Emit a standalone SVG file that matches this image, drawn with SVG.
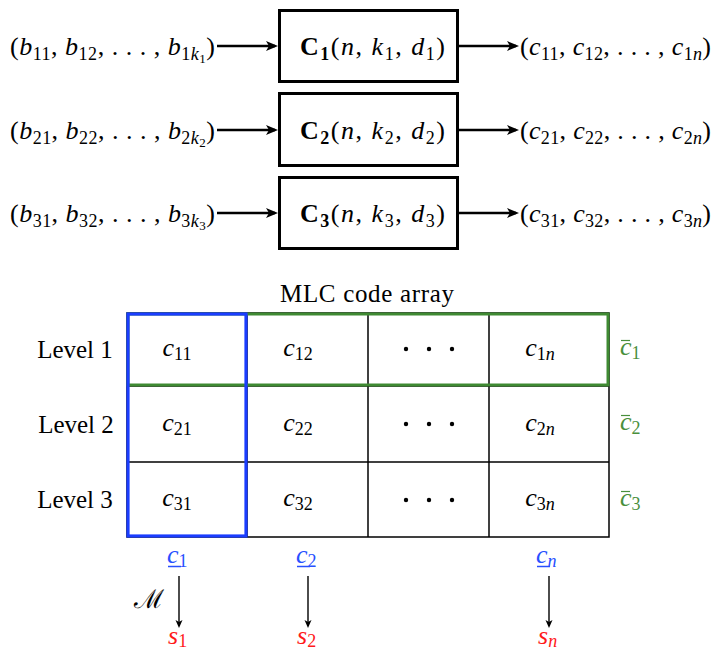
<svg xmlns="http://www.w3.org/2000/svg" width="718" height="651" viewBox="0 0 718 651" font-family="'Liberation Serif', 'Times New Roman', Times, serif">
<style>
text{font-family:'Liberation Serif','Times New Roman',Times,serif}
.m{font-size:26px;fill:#000}
.i{font-style:italic}
.s{font-size:18px}
.ss{font-size:13px}
.b{font-weight:bold}
.t{font-size:25px;fill:#000}
.box{fill:#fff;stroke:#000;stroke-width:3}
.grid{fill:none;stroke:#000;stroke-width:1.5}
.thick{stroke:#000;stroke-width:2.6;fill:none}
.thin{stroke:#000;stroke-width:1.4;fill:none}
.blue{fill:#2850ff}
.green{fill:#4a8f3c}
.red{fill:#ff1a1a}
</style>
<defs>
<marker id="ah" markerUnits="userSpaceOnUse" markerWidth="16" markerHeight="12" refX="9" refY="5" orient="auto">
<path d="M0,0 L12,5 L0,10 L3,5 Z" fill="#000"/>
</marker>
<marker id="ahs" markerUnits="userSpaceOnUse" markerWidth="10" markerHeight="8" refX="6" refY="3.5" orient="auto">
<path d="M0,0 L8,3.5 L0,7 L2,3.5 Z" fill="#000"/>
</marker>
</defs>

<g id="connectors">
<line class="thick" x1="217" y1="46" x2="275" y2="46" marker-end="url(#ah)"/>
<line class="thick" x1="459" y1="46" x2="516" y2="46" marker-end="url(#ah)"/>
<line class="thick" x1="217" y1="130" x2="275" y2="130" marker-end="url(#ah)"/>
<line class="thick" x1="459" y1="130" x2="516" y2="130" marker-end="url(#ah)"/>
<line class="thick" x1="217" y1="213" x2="275" y2="213" marker-end="url(#ah)"/>
<line class="thick" x1="459" y1="213" x2="516" y2="213" marker-end="url(#ah)"/>
<line class="thin" x1="179" y1="576" x2="179" y2="626" marker-end="url(#ahs)"/>
<line class="thin" x1="308" y1="576" x2="308" y2="626" marker-end="url(#ahs)"/>
<line class="thin" x1="549" y1="576" x2="549" y2="626" marker-end="url(#ahs)"/>
</g>

<g id="in1"><text class="m" x="10" y="55" textLength="205">(<tspan class="i">b</tspan><tspan class="s" dy="5">11</tspan><tspan dy="-5">, </tspan><tspan class="i">b</tspan><tspan class="s" dy="5">12</tspan><tspan dy="-5">, . . . , </tspan><tspan class="i">b</tspan><tspan class="s" dy="5">1<tspan class="i">k</tspan></tspan><tspan class="ss" dy="3">1</tspan><tspan dy="-8">)</tspan></text></g>
<g id="in2"><text class="m" x="10" y="139" textLength="205">(<tspan class="i">b</tspan><tspan class="s" dy="5">21</tspan><tspan dy="-5">, </tspan><tspan class="i">b</tspan><tspan class="s" dy="5">22</tspan><tspan dy="-5">, . . . , </tspan><tspan class="i">b</tspan><tspan class="s" dy="5">2<tspan class="i">k</tspan></tspan><tspan class="ss" dy="3">2</tspan><tspan dy="-8">)</tspan></text></g>
<g id="in3"><text class="m" x="10" y="222" textLength="205">(<tspan class="i">b</tspan><tspan class="s" dy="5">31</tspan><tspan dy="-5">, </tspan><tspan class="i">b</tspan><tspan class="s" dy="5">32</tspan><tspan dy="-5">, . . . , </tspan><tspan class="i">b</tspan><tspan class="s" dy="5">3<tspan class="i">k</tspan></tspan><tspan class="ss" dy="3">3</tspan><tspan dy="-8">)</tspan></text></g>

<g id="C1"><rect class="box" x="279.5" y="10.5" width="178" height="71"/>
<text class="m" x="300" y="55" textLength="145"><tspan class="b">C</tspan><tspan class="s b" dy="5">1</tspan><tspan dy="-5">(</tspan><tspan class="i">n</tspan>, <tspan class="i">k</tspan><tspan class="s" dy="5">1</tspan><tspan dy="-5">, </tspan><tspan class="i">d</tspan><tspan class="s" dy="5">1</tspan><tspan dy="-5">)</tspan></text></g>
<g id="C2"><rect class="box" x="279.5" y="93.5" width="178" height="72"/>
<text class="m" x="300" y="139" textLength="145"><tspan class="b">C</tspan><tspan class="s b" dy="5">2</tspan><tspan dy="-5">(</tspan><tspan class="i">n</tspan>, <tspan class="i">k</tspan><tspan class="s" dy="5">2</tspan><tspan dy="-5">, </tspan><tspan class="i">d</tspan><tspan class="s" dy="5">2</tspan><tspan dy="-5">)</tspan></text></g>
<g id="C3"><rect class="box" x="279.5" y="177.5" width="178" height="71"/>
<text class="m" x="300" y="222" textLength="145"><tspan class="b">C</tspan><tspan class="s b" dy="5">3</tspan><tspan dy="-5">(</tspan><tspan class="i">n</tspan>, <tspan class="i">k</tspan><tspan class="s" dy="5">3</tspan><tspan dy="-5">, </tspan><tspan class="i">d</tspan><tspan class="s" dy="5">3</tspan><tspan dy="-5">)</tspan></text></g>

<g id="out1"><text class="m" x="520" y="55" textLength="191">(<tspan class="i">c</tspan><tspan class="s" dy="5">11</tspan><tspan dy="-5">, </tspan><tspan class="i">c</tspan><tspan class="s" dy="5">12</tspan><tspan dy="-5">, . . . , </tspan><tspan class="i">c</tspan><tspan class="s" dy="5">1<tspan class="i">n</tspan></tspan><tspan dy="-5">)</tspan></text></g>
<g id="out2"><text class="m" x="520" y="139" textLength="191">(<tspan class="i">c</tspan><tspan class="s" dy="5">21</tspan><tspan dy="-5">, </tspan><tspan class="i">c</tspan><tspan class="s" dy="5">22</tspan><tspan dy="-5">, . . . , </tspan><tspan class="i">c</tspan><tspan class="s" dy="5">2<tspan class="i">n</tspan></tspan><tspan dy="-5">)</tspan></text></g>
<g id="out3"><text class="m" x="520" y="222" textLength="191">(<tspan class="i">c</tspan><tspan class="s" dy="5">31</tspan><tspan dy="-5">, </tspan><tspan class="i">c</tspan><tspan class="s" dy="5">32</tspan><tspan dy="-5">, . . . , </tspan><tspan class="i">c</tspan><tspan class="s" dy="5">3<tspan class="i">n</tspan></tspan><tspan dy="-5">)</tspan></text></g>

<g id="array">
<text class="t" x="367" y="302" text-anchor="middle" textLength="174">MLC code array</text>
<rect class="grid" x="127" y="313" width="482" height="224"/>
<line class="grid" x1="127" y1="386" x2="609" y2="386"/>
<line class="grid" x1="127" y1="462" x2="609" y2="462"/>
<line class="grid" x1="247" y1="313" x2="247" y2="537"/>
<line class="grid" x1="368" y1="313" x2="368" y2="537"/>
<line class="grid" x1="489" y1="313" x2="489" y2="537"/>
<rect x="128" y="314" width="480" height="71" fill="none" stroke="#3f8a32" stroke-width="3"/>
<rect x="128" y="314" width="118" height="222" fill="none" stroke="#1a3dff" stroke-width="3.2"/>
</g>

<g id="levels">
<text class="t" x="75" y="358" text-anchor="middle">Level 1</text>
<text class="t" x="76" y="433" text-anchor="middle">Level 2</text>
<text class="t" x="75" y="508" text-anchor="middle">Level 3</text>
</g>

<g id="cells">
<text class="m" x="177" y="356" text-anchor="middle"><tspan class="i">c</tspan><tspan class="s" dy="4">11</tspan></text>
<text class="m" x="298" y="356" text-anchor="middle"><tspan class="i">c</tspan><tspan class="s" dy="4">12</tspan></text>
<text class="m" x="540" y="356" text-anchor="middle"><tspan class="i">c</tspan><tspan class="s" dy="4">1<tspan class="i">n</tspan></tspan></text>
<text class="m" x="177" y="431" text-anchor="middle"><tspan class="i">c</tspan><tspan class="s" dy="4">21</tspan></text>
<text class="m" x="298" y="431" text-anchor="middle"><tspan class="i">c</tspan><tspan class="s" dy="4">22</tspan></text>
<text class="m" x="540" y="431" text-anchor="middle"><tspan class="i">c</tspan><tspan class="s" dy="4">2<tspan class="i">n</tspan></tspan></text>
<text class="m" x="177" y="506" text-anchor="middle"><tspan class="i">c</tspan><tspan class="s" dy="4">31</tspan></text>
<text class="m" x="298" y="506" text-anchor="middle"><tspan class="i">c</tspan><tspan class="s" dy="4">32</tspan></text>
<text class="m" x="540" y="506" text-anchor="middle"><tspan class="i">c</tspan><tspan class="s" dy="4">3<tspan class="i">n</tspan></tspan></text>
<g fill="#000">
<circle cx="406" cy="349" r="2.2"/><circle cx="429" cy="349" r="2.2"/><circle cx="452" cy="349" r="2.2"/>
<circle cx="406" cy="424" r="2.2"/><circle cx="429" cy="424" r="2.2"/><circle cx="452" cy="424" r="2.2"/>
<circle cx="406" cy="500" r="2.2"/><circle cx="429" cy="500" r="2.2"/><circle cx="452" cy="500" r="2.2"/>
</g>
</g>

<g id="rowcodes">
<text class="m green" x="620" y="355"><tspan class="i">c</tspan><tspan class="s" dy="4">1</tspan></text>
<line x1="621" y1="340.5" x2="630" y2="340.5" stroke="#4a8f3c" stroke-width="1.2"/>
<text class="m green" x="620" y="430"><tspan class="i">c</tspan><tspan class="s" dy="4">2</tspan></text>
<line x1="621" y1="415.5" x2="630" y2="415.5" stroke="#4a8f3c" stroke-width="1.2"/>
<text class="m green" x="620" y="506"><tspan class="i">c</tspan><tspan class="s" dy="4">3</tspan></text>
<line x1="621" y1="491.5" x2="630" y2="491.5" stroke="#4a8f3c" stroke-width="1.2"/>
</g>

<g id="colcodes">
<text class="m blue" x="167" y="563"><tspan class="i">c</tspan><tspan class="s" dy="4">1</tspan></text>
<line x1="168" y1="566.5" x2="181" y2="566.5" stroke="#2850ff" stroke-width="1.5"/>
<text class="m blue" x="296" y="563"><tspan class="i">c</tspan><tspan class="s" dy="4">2</tspan></text>
<line x1="297" y1="566.5" x2="310" y2="566.5" stroke="#2850ff" stroke-width="1.5"/>
<text class="m blue" x="536" y="563"><tspan class="i">c</tspan><tspan class="s i" dy="4">n</tspan></text>
<line x1="537" y1="566.5" x2="550" y2="566.5" stroke="#2850ff" stroke-width="1.5"/>
</g>

<g id="mapping">
<text class="m" x="134" y="608">ℳ</text>
</g>

<g id="symbols">
<text class="m red" x="168" y="644"><tspan class="i">s</tspan><tspan class="s" dy="3">1</tspan></text>
<text class="m red" x="297" y="644"><tspan class="i">s</tspan><tspan class="s" dy="3">2</tspan></text>
<text class="m red" x="538" y="644"><tspan class="i">s</tspan><tspan class="s i" dy="3">n</tspan></text>
</g>
</svg>
